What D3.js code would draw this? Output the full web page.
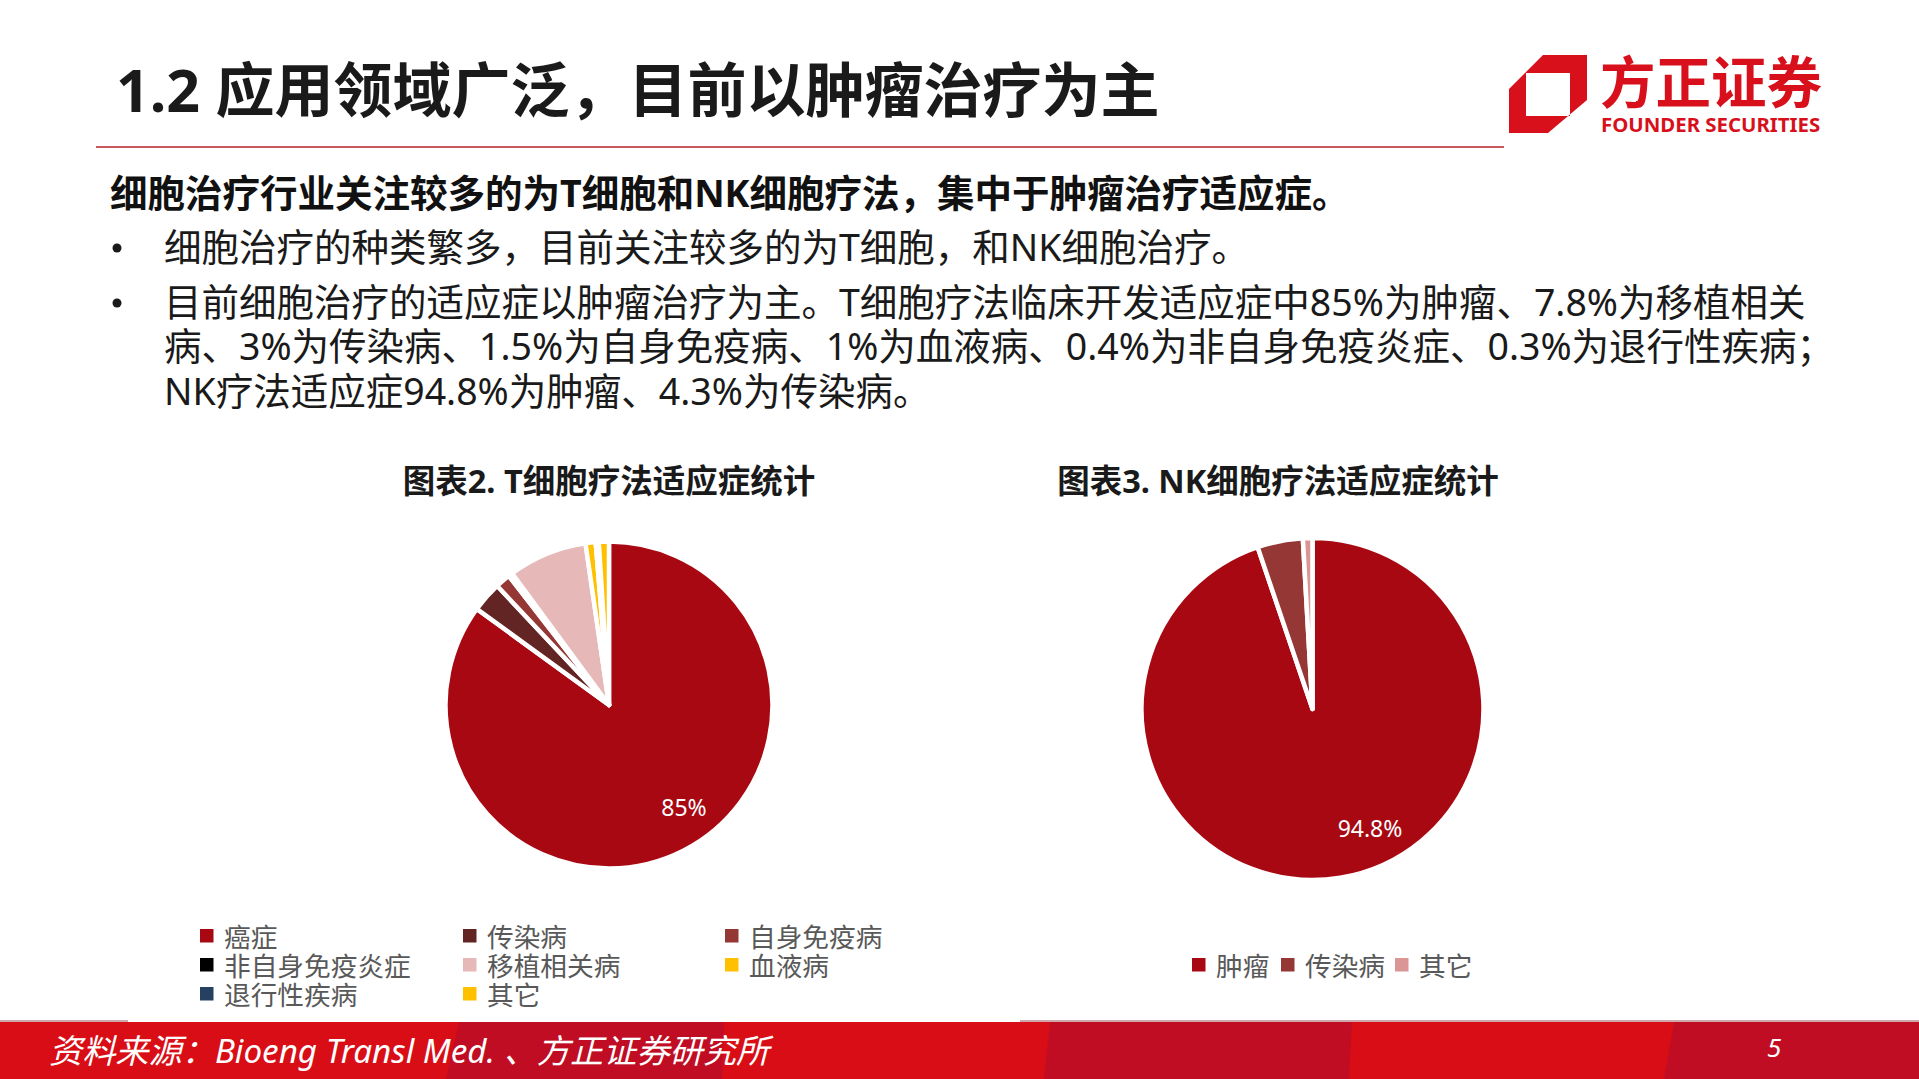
<!DOCTYPE html>
<html>
<head>
<meta charset="utf-8">
<script src="https://cdn.jsdelivr.net/npm/d3@7"></script>
<style>
  html, body { margin: 0; padding: 0; background: #fff; overflow: hidden; }
  text { font-family: "Noto Sans", "Noto Sans CJK SC", sans-serif; }
</style>
</head>
<body>
<svg id="chart" width="1919" height="1079"></svg>
<script>
const width = 1919;
const height = 1079;

const titleText = "1.2 应用领域广泛，目前以肿瘤治疗为主";
const leadText = "细胞治疗行业关注较多的为T细胞和NK细胞疗法，集中于肿瘤治疗适应症。";
const bodyLines = [
  "细胞治疗的种类繁多，目前关注较多的为T细胞，和NK细胞治疗。",
  "目前细胞治疗的适应症以肿瘤治疗为主。T细胞疗法临床开发适应症中85%为肿瘤、7.8%为移植相关",
  "病、3%为传染病、1.5%为自身免疫病、1%为血液病、0.4%为非自身免疫炎症、0.3%为退行性疾病；",
  "NK疗法适应症94.8%为肿瘤、4.3%为传染病。"
];

const tCategories = ["癌症", "传染病", "自身免疫病", "非自身免疫炎症", "移植相关病", "血液病", "退行性疾病", "其它"];
const tValues = [85, 3, 1.5, 0.4, 7.8, 1, 0.3, 1];
const tColors = ["#a80812", "#632523", "#953735", "#000000", "#e6b9b8", "#ffc000", "#254061", "#ffc000"];

const nkCategories = ["肿瘤", "传染病", "其它"];
const nkValues = [94.8, 4.3, 0.9];
const nkColors = ["#a80812", "#953735", "#d99694"];

const svg = d3.select("#chart");

// Footer bar, the darker bands lean a little
svg.append("rect")
  .attr("x", 0).attr("y", 1022)
  .attr("width", width).attr("height", 57)
  .attr("fill", "#d90d16");

const footerBands = [
  [459, 724, 446, 722],
  [1050, 1352, 1044, 1349],
  [1674, width, 1664, width]
];
svg.selectAll(".band")
  .data(footerBands)
  .enter()
  .append("path")
  .attr("class", "band")
  .attr("d", d => `M${d[0]},1022L${d[1]},1022L${d[3]},1079L${d[2]},1079Z`)
  .attr("fill", "#c00d24");

svg.selectAll(".edge")
  .data([[0, 128], [1020, width]])
  .enter()
  .append("line")
  .attr("class", "edge")
  .attr("x1", d => d[0]).attr("x2", d => d[1])
  .attr("y1", 1021).attr("y2", 1021)
  .attr("stroke", "#c08a8e")
  .attr("stroke-width", 1.5);

svg.append("text")
  .attr("x", 49).attr("y", 1063)
  .attr("fill", "#fff")
  .attr("font-size", 33.2)
  .attr("font-style", "italic")
  .text("资料来源：Bioeng Transl Med. 、方正证券研究所");

svg.append("text")
  .attr("x", 1767).attr("y", 1057)
  .attr("fill", "#fff")
  .attr("font-size", 26)
  .attr("font-style", "italic")
  .text("5");

// Header
svg.append("text")
  .attr("x", 116).attr("y", 112)
  .attr("fill", "#1a1a1a")
  .attr("font-size", 59)
  .attr("font-weight", 700)
  .text(titleText);

svg.append("line")
  .attr("x1", 96).attr("x2", 1504)
  .attr("y1", 147).attr("y2", 147)
  .attr("stroke", "#b8202a")
  .attr("stroke-width", 1.5);

// Logo
const logo = svg.append("g");
logo.append("path")
  .attr("fill", "#d7101b")
  .attr("fill-rule", "evenodd")
  .attr("d", "M1543,55H1587V100L1548,133H1509V89Z M1526,73V116H1570V73Z");
logo.append("text")
  .attr("x", 1600).attr("y", 103)
  .attr("fill", "#d7101b")
  .attr("font-size", 55.5)
  .attr("font-weight", 700)
  .text("方正证券");
logo.append("text")
  .attr("x", 1601).attr("y", 132)
  .attr("fill", "#d7101b")
  .attr("font-size", 20.4)
  .attr("font-weight", 700)
  .text("FOUNDER SECURITIES");

// Text block
svg.append("text")
  .attr("x", 110).attr("y", 207)
  .attr("fill", "#111")
  .attr("font-size", 37.5)
  .attr("font-weight", 700)
  .text(leadText);

const bodyY = [261, 316, 360, 405];
svg.selectAll(".body")
  .data(bodyLines)
  .enter()
  .append("text")
  .attr("class", "body")
  .attr("x", 164)
  .attr("y", (d, i) => bodyY[i])
  .attr("fill", "#1a1a1a")
  .attr("font-size", 37.5)
  .text(d => d);

svg.selectAll(".bullet")
  .data([0, 1])
  .enter()
  .append("circle")
  .attr("class", "bullet")
  .attr("cx", 117)
  .attr("cy", (d, i) => bodyY[i] - 13)
  .attr("r", 4.5)
  .attr("fill", "#1a1a1a");

// Draws one pie with its title and data label
function drawPie(cfg) {
  const pie = d3.pie().sort(null).value(d => d.value);
  const arc = d3.arc().innerRadius(0).outerRadius(cfg.radius);
  const rows = cfg.categories.map((c, i) => ({ name: c, value: cfg.values[i], color: cfg.colors[i] }));

  svg.append("text")
    .attr("x", cfg.titleX).attr("y", 493)
    .attr("text-anchor", "middle")
    .attr("fill", "#1a1a1a")
    .attr("font-size", 32.5)
    .attr("font-weight", 700)
    .text(cfg.title);

  const g = svg.append("g").attr("transform", `translate(${cfg.cx}, ${cfg.cy})`);
  g.selectAll("path")
    .data(pie(rows))
    .enter()
    .append("path")
    .attr("d", arc)
    .attr("fill", d => d.data.color)
    .attr("stroke", "#fff")
    .attr("stroke-width", 4.5)
    .attr("stroke-linejoin", "round");

  svg.append("text")
    .attr("x", cfg.labelX).attr("y", cfg.labelY)
    .attr("text-anchor", "middle")
    .attr("fill", "#fff")
    .attr("font-size", 23)
    .text(cfg.label);
}

drawPie({
  title: "图表2. T细胞疗法适应症统计", titleX: 609,
  categories: tCategories, values: tValues, colors: tColors,
  cx: 609, cy: 705, radius: 163.5,
  label: "85%", labelX: 684, labelY: 816
});

drawPie({
  title: "图表3. NK细胞疗法适应症统计", titleX: 1278,
  categories: nkCategories, values: nkValues, colors: nkColors,
  cx: 1312.5, cy: 709, radius: 171,
  label: "94.8%", labelX: 1370, labelY: 837
});

// Legends
function drawLegend(items) {
  const g = svg.selectAll(null).data(items).enter().append("g")
    .attr("transform", d => `translate(${d.x}, ${d.y})`);
  g.append("rect")
    .attr("y", -16)
    .attr("width", 13.5).attr("height", 13.5)
    .attr("fill", d => d.color);
  g.append("text")
    .attr("x", 24)
    .attr("y", 0)
    .attr("dy", 2)
    .attr("fill", "#595959")
    .attr("font-size", 26.7)
    .text(d => d.name);
}

const tLegendX = [200, 463, 725];
const tLegendY = [945, 974, 1003];
drawLegend(tCategories.map((c, i) => ({
  name: c,
  color: tColors[i],
  x: tLegendX[i % 3],
  y: tLegendY[Math.floor(i / 3)]
})));

const nkLegendX = [1192, 1281, 1395];
drawLegend(nkCategories.map((c, i) => ({ name: c, color: nkColors[i], x: nkLegendX[i], y: 974 })));
</script>
</body>
</html>
